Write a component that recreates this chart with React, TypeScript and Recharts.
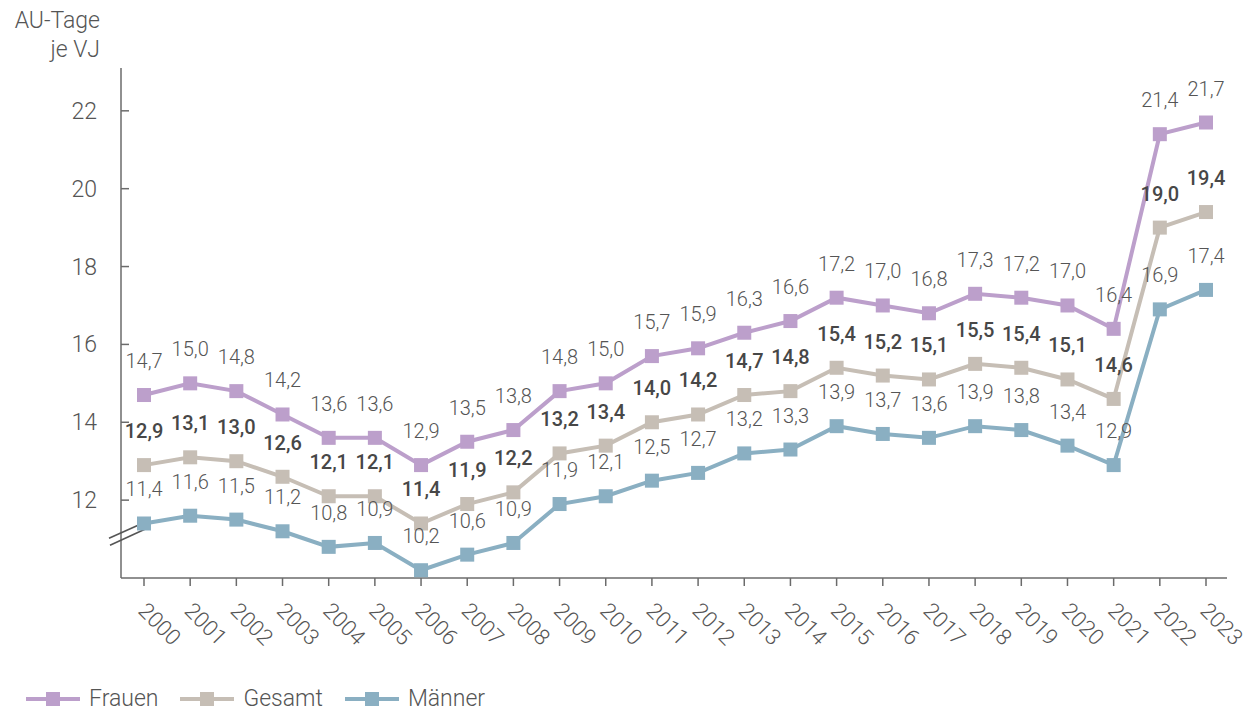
import React from "react";
import {
  LineChart,
  Line,
  XAxis,
  YAxis,
  LabelList,
  ReferenceDot,
} from "recharts";

const years = [
  "2000", "2001", "2002", "2003", "2004", "2005", "2006", "2007", "2008", "2009", "2010", "2011",
  "2012", "2013", "2014", "2015", "2016", "2017", "2018", "2019", "2020", "2021", "2022", "2023",
];

const frauen = [
  14.7, 15.0, 14.8, 14.2, 13.6, 13.6, 12.9, 13.5, 13.8, 14.8, 15.0, 15.7,
  15.9, 16.3, 16.6, 17.2, 17.0, 16.8, 17.3, 17.2, 17.0, 16.4, 21.4, 21.7,
];

const gesamt = [
  12.9, 13.1, 13.0, 12.6, 12.1, 12.1, 11.4, 11.9, 12.2, 13.2, 13.4, 14.0,
  14.2, 14.7, 14.8, 15.4, 15.2, 15.1, 15.5, 15.4, 15.1, 14.6, 19.0, 19.4,
];

const maenner = [
  11.4, 11.6, 11.5, 11.2, 10.8, 10.9, 10.2, 10.6, 10.9, 11.9, 12.1, 12.5,
  12.7, 13.2, 13.3, 13.9, 13.7, 13.6, 13.9, 13.8, 13.4, 12.9, 16.9, 17.4,
];

const yTicks = [12, 14, 16, 18, 20, 22];

const data = years.map((year, i) => ({
  year,
  frauen: frauen[i],
  gesamt: gesamt[i],
  maenner: maenner[i],
}));

const FONT = "Roboto, 'Noto Sans', sans-serif";
const TEXT = "#555555";
const BOLD_TEXT = "#474747";
const AXIS = "#6b6b6b";

const COLORS = {
  frauen: "#bc9fcb",
  gesamt: "#c6beb5",
  maenner: "#8aafc2",
};

const fmt = (v: number) => v.toFixed(1).replace(".", ",");

const squareDot = (color: string) => (props: any) => {
  const { cx, cy, index } = props;
  if (cx == null || cy == null) return <g key={index} />;
  return <rect key={index} x={cx - 7} y={cy - 7} width={14} height={14} fill={color} />;
};

const valueLabel = (bold: boolean) => (props: any) => {
  const { x, y, value, index } = props;
  return (
    <text
      key={index}
      x={x}
      y={y - 27}
      textAnchor="middle"
      fontFamily={FONT}
      fontSize={20}
      fontWeight={bold ? 500 : 300}
      fill={bold ? BOLD_TEXT : TEXT}
    >
      {fmt(value)}
    </text>
  );
};

const XTick = (props: any) => {
  const { x, y, payload } = props;
  const tx = x - 7;
  const ty = y + 34;
  return (
    <g>
      <line x1={x} x2={x} y1={y} y2={y + 8} stroke={AXIS} strokeWidth={1.5} />
      <text
        x={tx}
        y={ty}
        transform={`rotate(45 ${tx} ${ty})`}
        textAnchor="start"
        fontFamily={FONT}
        fontSize={22}
        fontWeight={300}
        fill={TEXT}
      >
        {payload.value}
      </text>
    </g>
  );
};

const YTick = (props: any) => {
  const { x, y, payload } = props;
  return (
    <g>
      <line x1={x} x2={x + 8} y1={y} y2={y} stroke={AXIS} strokeWidth={1.5} />
      <text
        x={x - 24}
        y={y + 8}
        textAnchor="end"
        fontFamily={FONT}
        fontSize={23}
        fontWeight={300}
        fill={TEXT}
      >
        {payload.value}
      </text>
    </g>
  );
};

const AxisBreak = (props: any) => {
  const { cx, cy } = props;
  if (cx == null || cy == null) return <g />;
  return (
    <g stroke="#555" strokeWidth={1.6}>
      <line x1={cx - 35} y1={cy + 3} x2={cx + 3} y2={cy - 14} />
      <line x1={cx - 34} y1={cy + 10} x2={cx + 3} y2={cy - 7} />
    </g>
  );
};

const legendItems = [
  { key: "frauen", label: "Frauen" },
  { key: "gesamt", label: "Gesamt" },
  { key: "maenner", label: "Männer" },
];

export default function App() {
  return (
    <div style={{ position: "relative", width: 1239, height: 700, fontFamily: FONT }}>
      <div
        style={{
          position: "absolute",
          left: 0,
          top: -2,
          width: 92,
          textAlign: "right",
          fontSize: 23,
          fontWeight: 300,
          lineHeight: "29px",
          color: TEXT,
        }}
      >
        AU-Tage
        <br />
        je VJ
      </div>
      <LineChart
        width={1239}
        height={650}
        data={data}
        margin={{ top: 60, right: 20, left: 0, bottom: 0 }}
      >
        <XAxis
          dataKey="year"
          height={80}
          padding={{ left: 23, right: 21 }}
          stroke={AXIS}
          strokeWidth={1.5}
          tickLine={false}
          tickSize={0}
          tickMargin={0}
          interval={0}
          tick={<XTick />}
        />
        <YAxis
          width={113}
          domain={[10, 23.1]}
          ticks={yTicks}
          allowDataOverflow
          stroke={AXIS}
          strokeWidth={1.5}
          tickLine={false}
          tickSize={0}
          tickMargin={0}
          tick={<YTick />}
        />
        <ReferenceDot x="2000" y={11.1} r={0} ifOverflow="visible" shape={<AxisBreak />} />
        <Line
          dataKey="frauen"
          stroke={COLORS.frauen}
          strokeWidth={4}
          dot={squareDot(COLORS.frauen)}
          activeDot={false}
          isAnimationActive={false}
        >
          <LabelList dataKey="frauen" content={valueLabel(false)} />
        </Line>
        <Line
          dataKey="gesamt"
          stroke={COLORS.gesamt}
          strokeWidth={4}
          dot={squareDot(COLORS.gesamt)}
          activeDot={false}
          isAnimationActive={false}
        >
          <LabelList dataKey="gesamt" content={valueLabel(true)} />
        </Line>
        <Line
          dataKey="maenner"
          stroke={COLORS.maenner}
          strokeWidth={4}
          dot={squareDot(COLORS.maenner)}
          activeDot={false}
          isAnimationActive={false}
        >
          <LabelList dataKey="maenner" content={valueLabel(false)} />
        </Line>
      </LineChart>
      <div
        style={{
          position: "absolute",
          left: 18,
          top: 681,
          height: 20,
          display: "flex",
          alignItems: "center",
          gap: 22,
          fontSize: 23,
          lineHeight: "20px",
          fontWeight: 300,
          color: TEXT,
        }}
      >
        {legendItems.map((item) => {
          const color = COLORS[item.key as keyof typeof COLORS];
          return (
            <div key={item.key} style={{ display: "flex", alignItems: "center", gap: 9, height: 20 }}>
              <svg width={54} height={16} style={{ display: "block" }}>
                <line x1={0} x2={54} y1={8} y2={8} stroke={color} strokeWidth={4} />
                <rect x={20} y={1} width={14} height={14} fill={color} />
              </svg>
              <span>{item.label}</span>
            </div>
          );
        })}
      </div>
    </div>
  );
}
